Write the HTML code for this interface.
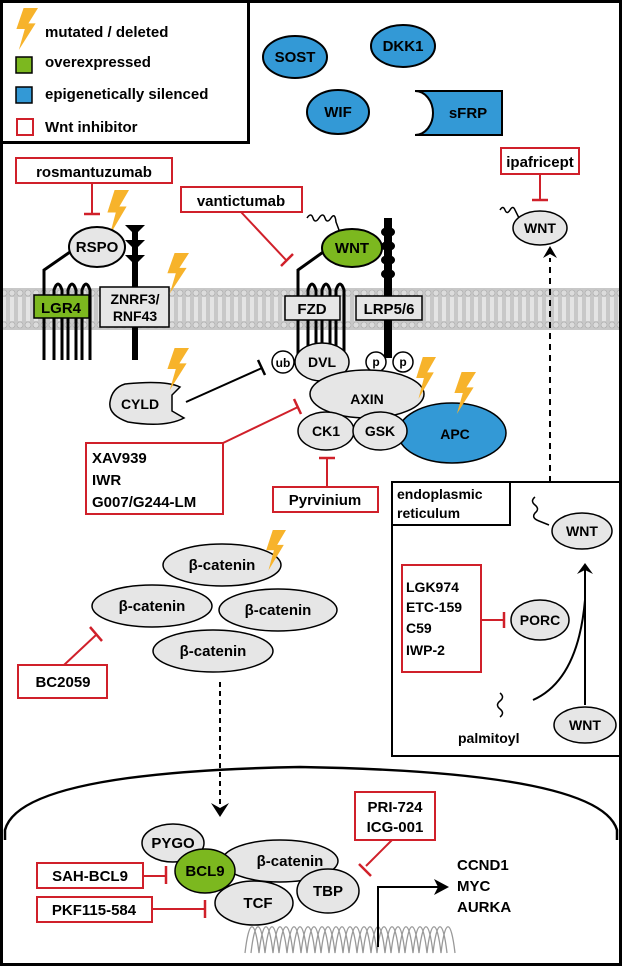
<!DOCTYPE html>
<html><head><meta charset="utf-8"><style>
html,body{margin:0;padding:0;background:#fff;}
svg{display:block;font-family:"Liberation Sans",Arial,sans-serif;font-weight:bold;}
</style></head><body>
<svg width="623" height="968" viewBox="0 0 623 968" xmlns="http://www.w3.org/2000/svg">
<defs>
<pattern id="mem" x="0" y="288" width="8" height="42" patternUnits="userSpaceOnUse">
<rect width="8" height="42" fill="#c8c8c8"/>
<circle cx="4" cy="5" r="3" fill="#dcdcdc" stroke="#aaa" stroke-width="0.6"/>
<circle cx="4" cy="37" r="3" fill="#dcdcdc" stroke="#aaa" stroke-width="0.6"/>
<line x1="3" y1="9" x2="3" y2="33" stroke="#fff" stroke-width="1"/>
<line x1="5" y1="9" x2="5" y2="33" stroke="#fff" stroke-width="1"/>
</pattern>
<g id="bolt"><path d="M8,0 L20,0 L12,11 L18,11 L4,30 L9,15 L2,15 Z" fill="#f7b32b"/></g>
</defs>
<rect x="1.5" y="1.5" width="619" height="963" fill="#fff" stroke="#000" stroke-width="3"/>
<rect x="3" y="288" width="616" height="42" fill="url(#mem)"/>

<!-- legend -->
<rect x="1.5" y="1.5" width="247" height="141" fill="#fff" stroke="#000" stroke-width="3"/>
<g transform="translate(14,8) scale(1.2,1.4)"><use href="#bolt"/></g>
<text x="45" y="37" font-size="15">mutated / deleted</text>
<rect x="16" y="57" width="16" height="16" fill="#7cb81f" stroke="#000" stroke-width="1.5"/>
<text x="45" y="67" font-size="15">overexpressed</text>
<rect x="16" y="87" width="16" height="16" fill="#3399d6" stroke="#000" stroke-width="1.5"/>
<text x="45" y="99" font-size="15">epigenetically silenced</text>
<rect x="17" y="119" width="16" height="16" fill="#fff" stroke="#d0202a" stroke-width="2"/>
<text x="45" y="132" font-size="15">Wnt inhibitor</text>

<g stroke="#000" stroke-width="2">
<ellipse cx="295" cy="57" rx="32" ry="21" fill="#3399d6"/>
<ellipse cx="403" cy="46" rx="32" ry="21" fill="#3399d6"/>
<ellipse cx="338" cy="112" rx="31" ry="22" fill="#3399d6"/>
<path d="M415,91 L502,91 L502,135 L415,135 A18,22 0 0 0 415,91 Z" fill="#3399d6"/>
</g>
<g font-size="15" text-anchor="middle">
<text x="295" y="62">SOST</text><text x="403" y="51">DKK1</text><text x="338" y="117">WIF</text><text x="468" y="118">sFRP</text>
</g>

<!-- rosmantuzumab -->
<rect x="16" y="158" width="156" height="25" fill="#fff" stroke="#d0202a" stroke-width="2"/>
<text x="94" y="177" font-size="15" text-anchor="middle">rosmantuzumab</text>
<line x1="92" y1="183" x2="92" y2="213" stroke="#d0202a" stroke-width="2"/>
<line x1="84" y1="214" x2="100" y2="214" stroke="#d0202a" stroke-width="2.5"/>
<g transform="translate(105,190) scale(1.2,1.5)"><use href="#bolt"/></g>
<!-- LGR4 -->
<path d="M70,252 L44,270 L44,360" fill="none" stroke="#000" stroke-width="3"/>
<path d="M54,360 L54,290 Q58,278 62,290 L62,360 M68,360 L68,290 Q72,278 76,290 L76,360 M82,360 L82,290 Q86,278 90,290 L90,360" fill="none" stroke="#000" stroke-width="3"/>
<rect x="34" y="295" width="55" height="23" fill="#7cb81f" stroke="#000" stroke-width="1.5"/>
<text x="61" y="313" font-size="15" text-anchor="middle">LGR4</text>
<ellipse cx="97" cy="247" rx="28" ry="20" fill="#e6e6e6" stroke="#000" stroke-width="2"/>
<text x="97" y="252" font-size="15" text-anchor="middle">RSPO</text>
<!-- ZNRF3 -->
<rect x="132" y="225" width="6" height="135" fill="#000"/>
<path d="M125,225 L145,225 L135,235 Z M125,240 L145,240 L135,250 Z M125,255 L145,255 L135,265 Z" fill="#000"/>
<rect x="100" y="287" width="69" height="40" fill="#e6e6e6" stroke="#000" stroke-width="1.5"/>
<text x="135" y="304" font-size="14" text-anchor="middle">ZNRF3/</text>
<text x="135" y="321" font-size="14" text-anchor="middle">RNF43</text>
<g transform="translate(165,253) scale(1.2,1.35)"><use href="#bolt"/></g>

<!-- vantictumab -->
<rect x="181" y="187" width="121" height="25" fill="#fff" stroke="#d0202a" stroke-width="2"/>
<text x="241" y="206" font-size="15" text-anchor="middle">vantictumab</text>
<line x1="241" y1="212" x2="286" y2="260" stroke="#d0202a" stroke-width="2"/>
<line x1="281" y1="266" x2="293" y2="254" stroke="#d0202a" stroke-width="2.5"/>
<!-- FZD -->
<path d="M326,250 L298,270 L298,360" fill="none" stroke="#000" stroke-width="3"/>
<path d="M308,360 L308,290 Q312,278 316,290 L316,360 M322,360 L322,290 Q326,278 330,290 L330,360 M336,360 L336,290 Q340,278 344,290 L344,360" fill="none" stroke="#000" stroke-width="3"/>
<rect x="285" y="296" width="55" height="24" fill="#e6e6e6" stroke="#000" stroke-width="1.5"/>
<text x="312" y="314" font-size="15" text-anchor="middle">FZD</text>
<!-- LRP -->
<rect x="384" y="218" width="8" height="140" fill="#000"/>
<g fill="#000"><ellipse cx="388" cy="232" rx="7" ry="5"/><ellipse cx="388" cy="246" rx="7" ry="5"/><ellipse cx="388" cy="260" rx="7" ry="5"/><ellipse cx="388" cy="274" rx="7" ry="5"/></g>
<rect x="356" y="296" width="66" height="24" fill="#e6e6e6" stroke="#000" stroke-width="1.5"/>
<text x="389" y="314" font-size="15" text-anchor="middle">LRP5/6</text>
<path d="M307,218 q4,-6 6,0 q2,6 6,0 q4,-6 6,0 q2,6 6,0 q4,-6 5,4 l3,8" fill="none" stroke="#000" stroke-width="1.5"/>
<ellipse cx="352" cy="248" rx="30" ry="19" fill="#7cb81f" stroke="#000" stroke-width="2"/>
<text x="352" y="253" font-size="15" text-anchor="middle">WNT</text>

<!-- destruction complex -->
<g stroke="#000" stroke-width="1.5">
<circle cx="376" cy="362" r="10" fill="#fff"/>
<circle cx="403" cy="362" r="10" fill="#fff"/>
<ellipse cx="322" cy="362" rx="27" ry="19" fill="#e6e6e6"/>
<circle cx="283" cy="362" r="11" fill="#fff"/>
<ellipse cx="367" cy="394" rx="57" ry="24" fill="#e6e6e6"/>
<ellipse cx="452" cy="433" rx="54" ry="30" fill="#3399d6"/>
<ellipse cx="326" cy="431" rx="28" ry="19" fill="#e6e6e6"/>
<ellipse cx="380" cy="431" rx="27" ry="19" fill="#e6e6e6"/>
</g>
<g font-size="14" text-anchor="middle">
<text x="283" y="367" font-size="12">ub</text><text x="376" y="366" font-size="12">p</text><text x="403" y="366" font-size="12">p</text>
<text x="322" y="367">DVL</text><text x="367" y="404">AXIN</text><text x="455" y="439">APC</text>
<text x="326" y="436">CK1</text><text x="380" y="436">GSK</text>
</g>
<g transform="translate(414,357) scale(1.1,1.4)"><use href="#bolt"/></g>
<g transform="translate(452,372) scale(1.2,1.4)"><use href="#bolt"/></g>
<!-- CYLD -->
<path d="M125,384 Q165,380 180,387 L172,395 L172,411 L184,418 Q165,428 128,422 Q108,415 110,402 Q112,388 125,384 Z" fill="#e6e6e6" stroke="#000" stroke-width="1.5"/>
<text x="140" y="409" font-size="14" text-anchor="middle">CYLD</text>
<g transform="translate(165,348) scale(1.2,1.4)"><use href="#bolt"/></g>
<line x1="186" y1="402" x2="262" y2="368" stroke="#000" stroke-width="2"/>
<line x1="258" y1="360" x2="265" y2="375" stroke="#000" stroke-width="2.5"/>
<!-- XAV939 -->
<rect x="86" y="443" width="137" height="71" fill="#fff" stroke="#d0202a" stroke-width="2"/>
<g font-size="15"><text x="92" y="463">XAV939</text><text x="92" y="485">IWR</text><text x="92" y="507">G007/G244-LM</text></g>
<line x1="223" y1="443" x2="298" y2="407" stroke="#d0202a" stroke-width="2"/>
<line x1="294" y1="399" x2="301" y2="414" stroke="#d0202a" stroke-width="2.5"/>
<!-- Pyrvinium -->
<rect x="273" y="487" width="105" height="25" fill="#fff" stroke="#d0202a" stroke-width="2"/>
<text x="325" y="505" font-size="15" text-anchor="middle">Pyrvinium</text>
<line x1="327" y1="487" x2="327" y2="459" stroke="#d0202a" stroke-width="2"/>
<line x1="319" y1="458" x2="335" y2="458" stroke="#d0202a" stroke-width="2.5"/>

<!-- ipafricept -->
<rect x="501" y="148" width="78" height="26" fill="#fff" stroke="#d0202a" stroke-width="2"/>
<text x="540" y="167" font-size="15" text-anchor="middle">ipafricept</text>
<line x1="540" y1="174" x2="540" y2="199" stroke="#d0202a" stroke-width="2"/>
<line x1="532" y1="200" x2="548" y2="200" stroke="#d0202a" stroke-width="2.5"/>
<path d="M500,210 q3,-5 5,0 q2,5 5,0 q3,-5 5,0 l4,8" fill="none" stroke="#000" stroke-width="1.5"/>
<ellipse cx="540" cy="228" rx="27" ry="17" fill="#e6e6e6" stroke="#000" stroke-width="1.5"/>
<text x="540" y="233" font-size="14" text-anchor="middle">WNT</text>
<line x1="550" y1="482" x2="550" y2="258" stroke="#000" stroke-width="2" stroke-dasharray="6,5"/>
<path d="M543,258 L550,246 L557,258 L550,254 Z" fill="#000"/>

<!-- ER -->
<rect x="392" y="482" width="228" height="274" fill="#fff" stroke="#000" stroke-width="2"/>
<rect x="392" y="482" width="118" height="43" fill="#fff" stroke="#000" stroke-width="2"/>
<text x="397" y="499" font-size="14">endoplasmic</text>
<text x="397" y="518" font-size="14">reticulum</text>
<path d="M535,497 q-5,4 0,8 q5,4 0,8 q-4,5 4,8 l10,4" fill="none" stroke="#000" stroke-width="1.5"/>
<ellipse cx="582" cy="531" rx="30" ry="18" fill="#e6e6e6" stroke="#000" stroke-width="1.5"/>
<text x="582" y="536" font-size="14" text-anchor="middle">WNT</text>
<rect x="402" y="565" width="79" height="107" fill="#fff" stroke="#d0202a" stroke-width="2"/>
<g font-size="14"><text x="406" y="592">LGK974</text><text x="406" y="612">ETC-159</text><text x="406" y="633">C59</text><text x="406" y="655">IWP-2</text></g>
<line x1="481" y1="620" x2="503" y2="620" stroke="#d0202a" stroke-width="2"/>
<line x1="504" y1="612" x2="504" y2="628" stroke="#d0202a" stroke-width="2.5"/>
<ellipse cx="540" cy="620" rx="29" ry="20" fill="#e6e6e6" stroke="#000" stroke-width="1.5"/>
<text x="540" y="625" font-size="14" text-anchor="middle">PORC</text>
<path d="M533,700 Q578,680 585,600" fill="none" stroke="#000" stroke-width="2"/>
<line x1="585" y1="705" x2="585" y2="570" stroke="#000" stroke-width="2"/>
<path d="M577,574 L585,563 L593,574 L585,570 Z" fill="#000"/>
<path d="M500,693 q5,4 0,8 q-5,4 0,8 q5,4 0,8" fill="none" stroke="#000" stroke-width="1.5"/>
<text x="458" y="743" font-size="14">palmitoyl</text>
<ellipse cx="585" cy="725" rx="31" ry="18" fill="#e6e6e6" stroke="#000" stroke-width="1.5"/>
<text x="585" y="730" font-size="14" text-anchor="middle">WNT</text>

<!-- beta-catenins -->
<g stroke="#000" stroke-width="1.5" fill="#e6e6e6">
<ellipse cx="222" cy="565" rx="59" ry="21"/>
<ellipse cx="152" cy="606" rx="60" ry="21"/>
<ellipse cx="278" cy="610" rx="59" ry="21"/>
<ellipse cx="213" cy="651" rx="60" ry="21"/>
</g>
<g font-size="15" text-anchor="middle">
<text x="222" y="570">β-catenin</text><text x="152" y="611">β-catenin</text><text x="278" y="615">β-catenin</text><text x="213" y="656">β-catenin</text>
</g>
<g transform="translate(264,530) scale(1.1,1.35)"><use href="#bolt"/></g>
<rect x="18" y="665" width="89" height="33" fill="#fff" stroke="#d0202a" stroke-width="2"/>
<text x="63" y="687" font-size="15" text-anchor="middle">BC2059</text>
<line x1="64" y1="665" x2="96" y2="635" stroke="#d0202a" stroke-width="2"/>
<line x1="90" y1="627" x2="102" y2="641" stroke="#d0202a" stroke-width="2.5"/>
<line x1="220" y1="682" x2="220" y2="806" stroke="#000" stroke-width="2" stroke-dasharray="5,4"/>
<path d="M211,803 L220,817 L229,803 L220,808 Z" fill="#000"/>

<!-- nucleus -->
<path d="M5,840 L5,830 Q20,772 300,767 Q600,772 617,830 L617,840" fill="none" stroke="#000" stroke-width="2.5"/>
<!-- DNA -->
<g fill="none" stroke="#999" stroke-width="1.3">
<path d="M251,953 C255,918 261,918 265,953 C269,918 275,918 279,953 C283,918 289,918 293,953 C297,918 303,918 307,953 C311,918 317,918 321,953 C325,918 331,918 335,953 C339,918 345,918 349,953 C353,918 359,918 363,953 C367,918 373,918 377,953 C381,918 387,918 391,953 C395,918 401,918 405,953 C409,918 415,918 419,953 C423,918 429,918 433,953 C437,918 443,918 447,953"/>
<path d="M245,953 C249,918 255,918 259,953 C263,918 269,918 273,953 C277,918 283,918 287,953 C291,918 297,918 301,953 C305,918 311,918 315,953 C319,918 325,918 329,953 C333,918 339,918 343,953 C347,918 353,918 357,953 C361,918 367,918 371,953 C375,918 381,918 385,953 C389,918 395,918 399,953 C403,918 409,918 413,953 C417,918 423,918 427,953 C431,918 437,918 441,953 C445,918 451,918 455,953"/>
</g>
<g stroke="#000" stroke-width="1.5">
<ellipse cx="173" cy="843" rx="31" ry="19" fill="#e6e6e6"/>
<ellipse cx="280" cy="861" rx="58" ry="21" fill="#e6e6e6"/>
<ellipse cx="254" cy="903" rx="39" ry="22" fill="#e6e6e6"/>
<ellipse cx="328" cy="891" rx="31" ry="22" fill="#e6e6e6"/>
<ellipse cx="205" cy="871" rx="30" ry="22" fill="#7cb81f"/>
</g>
<g font-size="15" text-anchor="middle">
<text x="173" y="848">PYGO</text><text x="290" y="866">β-catenin</text><text x="258" y="908">TCF</text><text x="328" y="896">TBP</text><text x="205" y="876">BCL9</text>
</g>
<rect x="37" y="863" width="106" height="25" fill="#fff" stroke="#d0202a" stroke-width="2"/>
<text x="90" y="881" font-size="15" text-anchor="middle">SAH-BCL9</text>
<line x1="143" y1="876" x2="165" y2="876" stroke="#d0202a" stroke-width="2"/>
<line x1="166" y1="866" x2="166" y2="884" stroke="#d0202a" stroke-width="2.5"/>
<rect x="37" y="897" width="115" height="25" fill="#fff" stroke="#d0202a" stroke-width="2"/>
<text x="94" y="915" font-size="15" text-anchor="middle">PKF115-584</text>
<line x1="152" y1="909" x2="204" y2="909" stroke="#d0202a" stroke-width="2"/>
<line x1="205" y1="900" x2="205" y2="918" stroke="#d0202a" stroke-width="2.5"/>
<rect x="355" y="792" width="80" height="48" fill="#fff" stroke="#d0202a" stroke-width="2"/>
<text x="395" y="812" font-size="15" text-anchor="middle">PRI-724</text>
<text x="395" y="832" font-size="15" text-anchor="middle">ICG-001</text>
<line x1="392" y1="840" x2="366" y2="866" stroke="#d0202a" stroke-width="2"/>
<line x1="359" y1="864" x2="371" y2="876" stroke="#d0202a" stroke-width="2.5"/>
<polyline points="378,947 378,887 438,887" fill="none" stroke="#000" stroke-width="2"/>
<path d="M434,879 L449,887 L434,895 L438,887 Z" fill="#000"/>
<g font-size="15"><text x="457" y="870">CCND1</text><text x="457" y="891">MYC</text><text x="457" y="912">AURKA</text></g>
</svg>
</body></html>
